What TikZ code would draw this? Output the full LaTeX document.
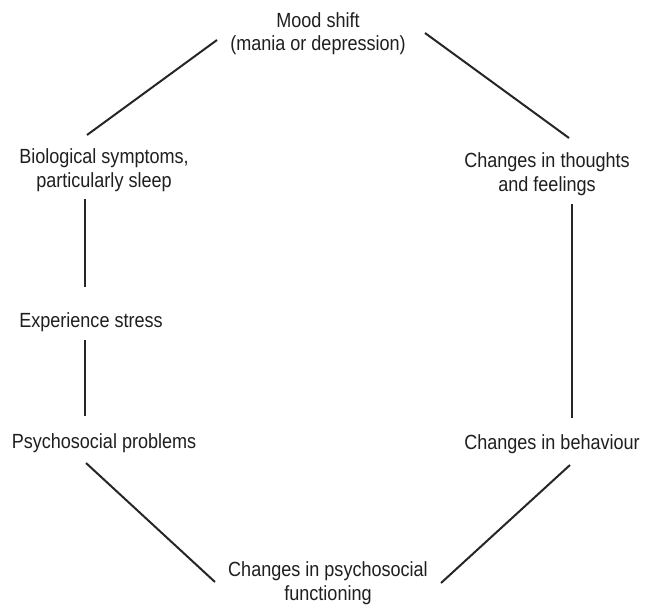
\documentclass[tikz,border=0pt]{standalone}
\usepackage{fontspec}
\setmainfont{Liberation Sans}[FakeStretch=0.88]
\begin{document}
\begin{tikzpicture}[x=1pt,y=-1pt,
  lbl/.style={inner sep=0pt, align=center, anchor=base, text=black!88,
    font=\fontsize{20.5}{23.5}\selectfont},
  link/.style={line width=2pt, black!85}]
\useasboundingbox (0,0) rectangle (645,607);
\fill[white] (0,0) rectangle (645,607);
% nodes (anchored at the baseline of their last line)
\node[lbl] (mood) at (318,51) {Mood shift\\(mania or depression)};
\node[lbl] (bio)  at (104,187) {Biological symptoms,\\particularly sleep};
\node[lbl] (thou) at (547,191) {Changes in thoughts\\and feelings};
\node[lbl] (stress) at (91,327) {Experience stress};
\node[lbl] (psyp) at (104,448) {Psychosocial problems};
\node[lbl] (beh) at (552,449) {Changes in behaviour};
\node[lbl] (func) at (328,600) {Changes in psychosocial\\functioning};
% connector end points
\coordinate (a1) at (87,135);  \coordinate (a2) at (217,40);
\coordinate (b1) at (425,33);  \coordinate (b2) at (569,138);
\coordinate (c1) at (572,204); \coordinate (c2) at (572,418);
\coordinate (d1) at (570,465); \coordinate (d2) at (441,583);
\coordinate (e1) at (86,463);  \coordinate (e2) at (215,582);
\coordinate (f1) at (85,340);  \coordinate (f2) at (85,416);
\coordinate (g1) at (85,199);  \coordinate (g2) at (85,287);
\draw[link] (a1) -- (a2);
\draw[link] (b1) -- (b2);
\draw[link] (c1) -- (c2);
\draw[link] (d1) -- (d2);
\draw[link] (e1) -- (e2);
\draw[link] (f1) -- (f2);
\draw[link] (g1) -- (g2);
\end{tikzpicture}
\end{document}
